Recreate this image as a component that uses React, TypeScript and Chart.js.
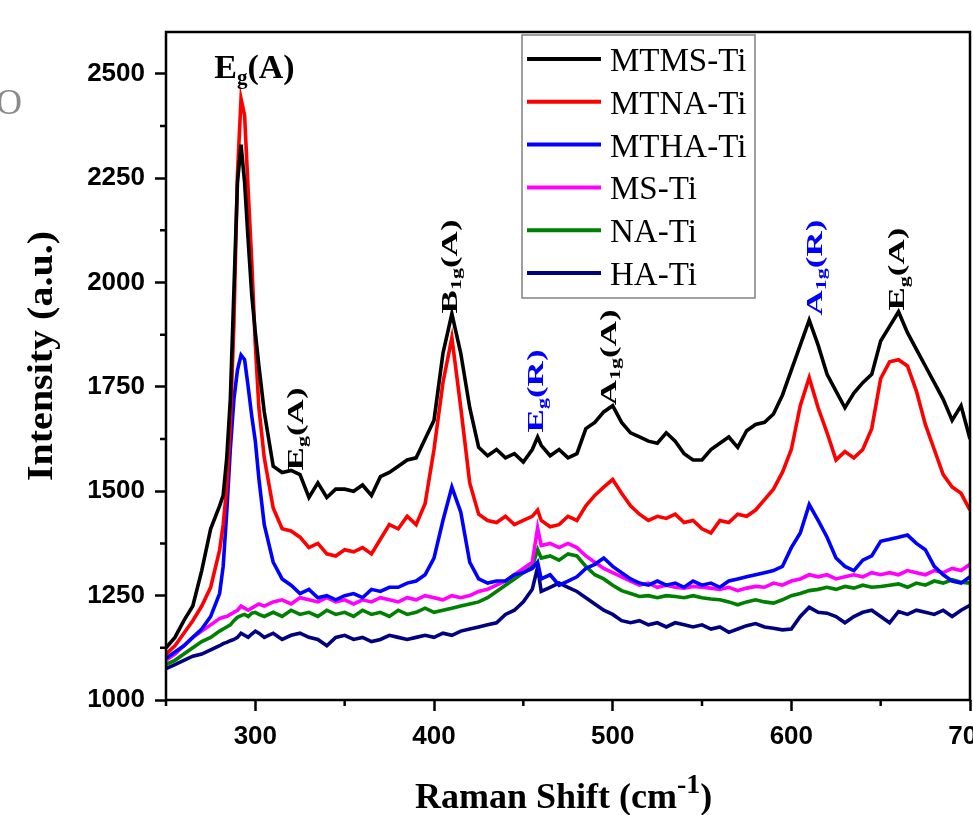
import React, { useEffect, useRef } from 'react';
import { Chart, registerables } from 'chart.js';

Chart.register(...registerables);

// ---- data (Raman shift, cm-1) ----
const ramanShift = [
  250, 255, 260, 265, 270, 275, 280,
  282, 284, 286, 288, 290, 292, 294, 296, 298, 300, 302,
  305,
  310, 315, 320, 325, 330, 335, 340, 345, 350, 355, 360, 365, 370, 375, 380, 385, 390, 395, 400, 405, 410, 415, 420, 425, 430, 435, 440, 445, 450, 455,
  458,
  460, 465, 470, 475, 480, 485, 490, 495, 500, 505, 510, 515, 520, 525, 530, 535, 540, 545, 550, 555, 560, 565, 570, 575, 580, 585, 590, 595, 600, 605, 610, 615, 620, 625, 630, 635, 640, 645, 650, 655, 660, 665, 670, 675, 680, 685, 690, 695, 700,
];

const mtmsTi = [
  1125, 1150, 1190, 1225, 1310, 1410, 1465,
  1490, 1580, 1720, 1980, 2240, 2330, 2240, 2100, 1970, 1880, 1800,
  1690,
  1560, 1545, 1550, 1540, 1485, 1520, 1485, 1505, 1505, 1500, 1515, 1490, 1535, 1545, 1560, 1575, 1580, 1625, 1670, 1830, 1925, 1830, 1700, 1605, 1585, 1600, 1580, 1590, 1570, 1600,
  1630,
  1610, 1585, 1600, 1580, 1590, 1650, 1665, 1690, 1705, 1665, 1640, 1630, 1620, 1615, 1640, 1620, 1590, 1575, 1575, 1600, 1615, 1630, 1605, 1645, 1660, 1665, 1685, 1730, 1790, 1850, 1910, 1850, 1780, 1740, 1700, 1735, 1760, 1780, 1860, 1895, 1930, 1880, 1840, 1800, 1760, 1720, 1670, 1705, 1625,
];

const mtnaTi = [
  1110, 1130, 1160, 1190, 1225, 1270, 1359,
  1420, 1510, 1660, 1900, 2260, 2440, 2400, 2220, 2050, 1850, 1700,
  1580,
  1460, 1410, 1405, 1390, 1365, 1375, 1350, 1345, 1360, 1355, 1365, 1350, 1385, 1420, 1410, 1440, 1420, 1470, 1600, 1760, 1868, 1700, 1520, 1445, 1430, 1425, 1440, 1420, 1430, 1440,
  1455,
  1430, 1415, 1420, 1440, 1430, 1465, 1490, 1510, 1528, 1495, 1465, 1445, 1430, 1440, 1435, 1445, 1425, 1430, 1410, 1400, 1430, 1425, 1445, 1440, 1455, 1480, 1505, 1545, 1600, 1705, 1772, 1700, 1640, 1575, 1595, 1580, 1600, 1650, 1770, 1810, 1815, 1800, 1740, 1660, 1600, 1540, 1510, 1495, 1455,
];

const mthaTi = [
  1100, 1115, 1130, 1150, 1170, 1200, 1255,
  1320, 1450, 1600, 1720, 1790, 1826, 1815, 1750, 1680, 1620, 1530,
  1420,
  1330, 1290, 1275, 1255, 1265, 1245, 1250, 1240, 1250, 1255, 1245, 1265, 1260, 1270, 1270, 1280, 1285, 1300, 1340, 1430, 1510, 1450, 1330, 1290, 1280, 1285, 1285, 1300, 1305, 1315,
  1330,
  1290, 1300, 1275, 1285, 1295, 1315, 1325, 1340, 1320, 1305, 1290, 1280, 1275, 1285, 1275, 1280, 1270, 1285, 1275, 1280, 1270, 1285, 1290, 1295, 1300, 1305, 1310, 1320, 1365, 1400, 1468, 1430, 1390, 1340, 1320, 1310, 1335, 1345, 1380, 1385, 1390, 1395, 1375, 1360, 1320, 1300, 1285, 1280, 1295,
];

const msTi = [
  1095, 1110, 1130, 1150, 1165, 1180, 1195,
  1198, 1200, 1205, 1210, 1215, 1225, 1220, 1215, 1220, 1225, 1230,
  1225,
  1235, 1240, 1230, 1245, 1240, 1235, 1245, 1235, 1240, 1230, 1240, 1235, 1245, 1240, 1235, 1245, 1240, 1250, 1245, 1240, 1250, 1245, 1250, 1260, 1265, 1275, 1285, 1300, 1315, 1330,
  1412,
  1370, 1375, 1365, 1375, 1365, 1345, 1330, 1315, 1305, 1295, 1285, 1275, 1280, 1270, 1275, 1270, 1268, 1272, 1270, 1268, 1265, 1270, 1262, 1268, 1272, 1270, 1280, 1275, 1285, 1290, 1300, 1295, 1300, 1290, 1295, 1300, 1295, 1305, 1300, 1305, 1300, 1310, 1305, 1300, 1310, 1305, 1315, 1310, 1325,
];

const naTi = [
  1085, 1095, 1110, 1125, 1140, 1150, 1165,
  1170, 1175, 1180, 1190, 1198, 1202, 1205, 1200, 1208, 1210, 1205,
  1200,
  1210, 1200, 1215, 1205, 1210, 1200, 1215, 1205, 1210, 1200, 1215, 1205, 1210, 1200, 1215, 1205, 1210, 1220, 1210, 1215, 1220, 1225, 1230, 1235, 1245, 1260, 1275, 1290, 1305, 1320,
  1360,
  1340, 1345, 1335, 1350, 1345, 1320, 1300, 1290, 1275, 1262, 1255, 1248, 1250, 1245, 1250, 1248, 1245, 1250, 1245, 1242, 1240, 1235, 1228, 1235, 1240, 1235, 1232, 1240, 1250, 1255, 1262, 1265, 1270, 1265, 1272, 1268, 1275, 1270, 1272, 1275, 1278, 1270, 1280, 1275, 1285, 1280, 1288, 1282, 1280,
];

const haTi = [
  1075, 1085, 1095, 1105, 1110, 1120, 1130,
  1135, 1138, 1142, 1145, 1150, 1160, 1155, 1150, 1158, 1165, 1160,
  1150,
  1160, 1145, 1155, 1160, 1150, 1145, 1130, 1150, 1155, 1145, 1150, 1140, 1145, 1155, 1150, 1145, 1150, 1155, 1150, 1160, 1155, 1165, 1170, 1175, 1180, 1185, 1205, 1215, 1235, 1265,
  1318,
  1260, 1270, 1280, 1270, 1260, 1245, 1230, 1215, 1205, 1190, 1185, 1190, 1180, 1185, 1175, 1185, 1180, 1175, 1180, 1170, 1175, 1162, 1170, 1178, 1183, 1175, 1172, 1168, 1170, 1200, 1222, 1210, 1208, 1200, 1185, 1200, 1210, 1215, 1200, 1185, 1212, 1205, 1215, 1210, 1205, 1215, 1200, 1215, 1227,
];

const seriesNames = ['MTMS-Ti', 'MTNA-Ti', 'MTHA-Ti', 'MS-Ti', 'NA-Ti', 'HA-Ti'];
const seriesValues = [mtmsTi, mtnaTi, mthaTi, msTi, naTi, haTi];

const xTickValues = [300, 400, 500, 600, 700];
const xMinorTickValues = [250, 350, 450, 550, 650];
const yTickValues = [1000, 1250, 1500, 1750, 2000, 2250, 2500];
const yMinorTickValues = [1125, 1375, 1625, 1875, 2125, 2375];

const xAxisTitle = ['Raman Shift (cm', '-1', ')'];
const yAxisTitle = 'Intensity (a.u.)';

// peak labels: [main, subscript, tail]
const peakLabelTexts = [
  ['E', 'g', '(A)'],
  ['E', 'g', '(A)'],
  ['B', '1g', '(A)'],
  ['E', 'g', '(R)'],
  ['A', '1g', '(A)'],
  ['A', '1g', '(R)'],
  ['E', 'g', '(A)'],
];

// ---- styles / layout ----
const seriesColors = ['#000000', '#ff0000', '#0000ff', '#ff00ff', '#008000', '#000080'];
const SERIF = "'Liberation Serif', 'Times New Roman', serif";
const SANS = "'Liberation Sans', Arial, sans-serif";

// anchors (in data units) & style per peak label
const peakLabelStyle = [
  { wn: 277, val: 2491, rotated: false, color: '#000' },
  { wn: 326.5, val: 1550, rotated: true, color: '#000' },
  { wn: 412.6, val: 1926, rotated: true, color: '#000' },
  { wn: 460.8, val: 1641, rotated: true, color: '#0000ff' },
  { wn: 501.6, val: 1706, rotated: true, color: '#000' },
  { wn: 617, val: 1921, rotated: true, color: '#0000ff' },
  { wn: 663.3, val: 1933, rotated: true, color: '#000' },
];

function drawRich(ctx: CanvasRenderingContext2D, parts: string[], size: number, color: string) {
  const subSize = Math.round(size * 0.62);
  let x = 0;
  ctx.fillStyle = color;
  ctx.textBaseline = 'alphabetic';
  ctx.textAlign = 'left';
  parts.forEach((t, i) => {
    const isSub = i === 1;
    ctx.font = `bold ${isSub ? subSize : size}px ${SERIF}`;
    ctx.fillText(t, x, isSub ? size * 0.2 : 0);
    x += ctx.measureText(t).width;
  });
}

const decorPlugin = {
  id: 'decor',
  afterDraw(chart: any) {
    const { ctx, chartArea: a, scales } = chart;
    const xs = scales.x;
    const ys = scales.y;
    ctx.save();

    // frame
    ctx.strokeStyle = '#000';
    ctx.lineWidth = 2.5;
    ctx.strokeRect(a.left, a.top, a.right - a.left, a.bottom - a.top);

    // minor ticks
    ctx.beginPath();
    xMinorTickValues.forEach((v) => {
      const px = xs.getPixelForValue(v);
      ctx.moveTo(px, a.bottom);
      ctx.lineTo(px, a.bottom + 6);
    });
    yMinorTickValues.forEach((v) => {
      const py = ys.getPixelForValue(v);
      ctx.moveTo(a.left, py);
      ctx.lineTo(a.left - 6, py);
    });
    ctx.stroke();

    // peak labels
    peakLabelTexts.forEach((parts, i) => {
      const st = peakLabelStyle[i];
      const px = xs.getPixelForValue(st.wn);
      const py = ys.getPixelForValue(st.val);
      ctx.save();
      ctx.translate(px, py);
      if (st.rotated) {
        ctx.rotate(-Math.PI / 2);
        ctx.scale(1, 0.66);
        drawRich(ctx, parts, 35, st.color);
      } else {
        drawRich(ctx, parts, 34, st.color);
      }
      ctx.restore();
    });

    // legend
    const lx = 522, ly = 35, lw = 233, lh = 263;
    ctx.fillStyle = '#fff';
    ctx.fillRect(lx, ly, lw, lh);
    ctx.strokeStyle = '#808080';
    ctx.lineWidth = 1.5;
    ctx.strokeRect(lx, ly, lw, lh);
    seriesNames.forEach((name, i) => {
      const cy = 59 + i * 42.8;
      ctx.strokeStyle = seriesColors[i];
      ctx.lineWidth = 4;
      ctx.beginPath();
      ctx.moveTo(527, cy);
      ctx.lineTo(601, cy);
      ctx.stroke();
      ctx.fillStyle = '#000';
      ctx.font = `33px ${SERIF}`;
      ctx.textAlign = 'left';
      ctx.textBaseline = 'alphabetic';
      ctx.fillText(name, 610, cy + 12);
    });

    // x axis title
    ctx.fillStyle = '#000';
    ctx.textBaseline = 'alphabetic';
    ctx.textAlign = 'left';
    let tx = 415;
    ctx.font = `bold 36px ${SERIF}`;
    ctx.fillText(xAxisTitle[0], tx, 808);
    tx += ctx.measureText(xAxisTitle[0]).width;
    ctx.font = `bold 28px ${SERIF}`;
    ctx.fillText(xAxisTitle[1], tx, 793);
    tx += ctx.measureText(xAxisTitle[1]).width;
    ctx.font = `bold 36px ${SERIF}`;
    ctx.fillText(xAxisTitle[2], tx, 808);

    // y axis title
    ctx.save();
    ctx.translate(52, 356);
    ctx.rotate(-Math.PI / 2);
    ctx.scale(1, 0.87);
    ctx.font = `bold 40px ${SERIF}`;
    ctx.textAlign = 'center';
    ctx.fillText(yAxisTitle, 0, 0);
    ctx.restore();

    // faint fragment at left edge of the source image
    ctx.fillStyle = '#8a8a8a';
    ctx.font = `36px ${SERIF}`;
    ctx.textAlign = 'left';
    ctx.fillText('O', -4, 114);

    ctx.restore();
  },
};

export default function App() {
  const ref = useRef<HTMLCanvasElement>(null);
  useEffect(() => {
    const datasets = seriesValues.map((vals, i) => ({
      label: seriesNames[i],
      data: ramanShift.map((xv, j) => ({ x: xv, y: vals[j] })),
      borderColor: seriesColors[i],
      backgroundColor: seriesColors[i],
      borderWidth: 3.6,
      pointRadius: 0,
      tension: 0,
      fill: false,
    }));
    const tickFont = { family: SANS, size: 26, weight: 'bold' as const };
    const grid = {
      display: true,
      drawOnChartArea: false,
      drawTicks: true,
      tickLength: 11,
      tickWidth: 2.5,
      tickColor: '#000',
    };
    const plain = (v: any) => String(v);
    const chart = new Chart(ref.current as HTMLCanvasElement, {
      type: 'line',
      data: { datasets },
      options: {
        animation: false,
        responsive: false,
        devicePixelRatio: 1,
        layout: { padding: { left: 0, right: 40, top: 32, bottom: 0 } },
        plugins: {
          legend: { display: false },
          tooltip: { enabled: false },
          title: { display: false },
        },
        scales: {
          x: {
            type: 'linear',
            min: 250,
            max: 700,
            afterBuildTicks: (s: any) => {
              s.ticks = xTickValues.map((v) => ({ value: v }));
            },
            afterFit: (s: any) => {
              s.height = 115;
            },
            ticks: { font: tickFont, color: '#000', padding: 10, maxRotation: 0, autoSkip: false, callback: plain },
            grid,
            border: { display: false },
          },
          y: {
            type: 'linear',
            min: 1000,
            max: 2600,
            afterBuildTicks: (s: any) => {
              s.ticks = yTickValues.map((v) => ({ value: v }));
            },
            afterFit: (s: any) => {
              s.width = 166;
            },
            ticks: { font: tickFont, color: '#000', padding: 10, autoSkip: false, callback: plain },
            grid,
            border: { display: false },
          },
        },
      } as any,
      plugins: [decorPlugin],
    });
    return () => chart.destroy();
  }, []);
  return (
    <div
      style={{
        position: 'absolute',
        left: 0,
        top: 0,
        width: 973,
        height: 815,
        overflow: 'hidden',
        background: '#fff',
      }}
    >
      <canvas ref={ref} width={1010} height={815} style={{ display: 'block', width: 1010, height: 815 }} />
    </div>
  );
}
